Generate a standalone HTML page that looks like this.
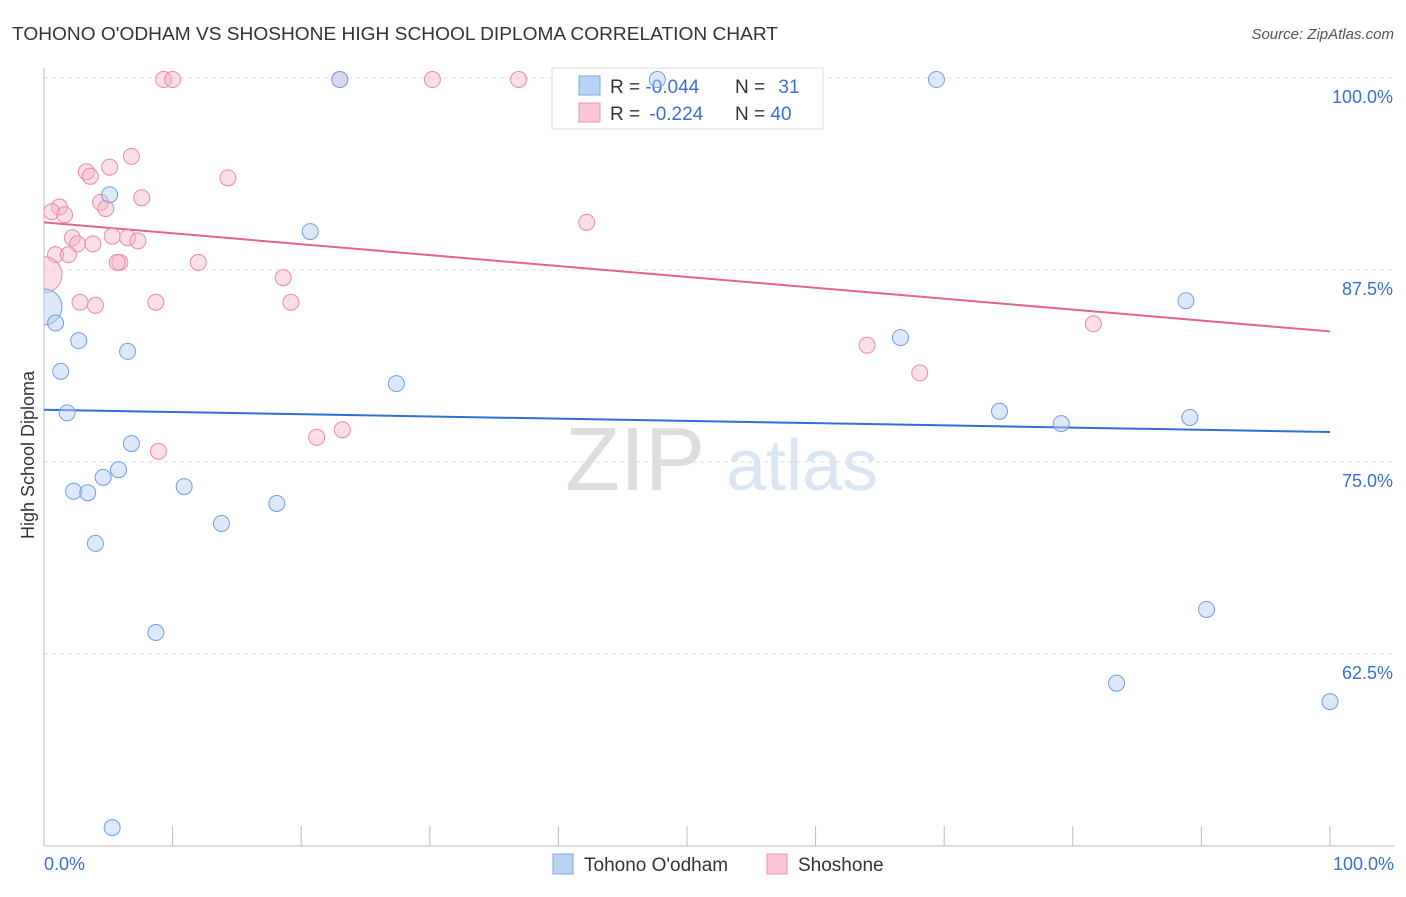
<!DOCTYPE html>
<html><head><meta charset="utf-8"><style>
body{margin:0;background:#fff;font-family:"Liberation Sans",sans-serif;}
svg text{font-family:"Liberation Sans",sans-serif;}
</style></head><body>
<svg id="chart" width="1406" height="892" xmlns="http://www.w3.org/2000/svg">
<defs><clipPath id="plotclip"><rect x="44" y="40" width="1362" height="806"/></clipPath></defs>
<text x="12" y="40" font-size="18" fill="#333" textLength="766" lengthAdjust="spacingAndGlyphs">TOHONO O'ODHAM VS SHOSHONE HIGH SCHOOL DIPLOMA CORRELATION CHART</text>
<text x="1394" y="39" font-size="15" fill="#555" text-anchor="end" font-style="italic">Source: ZipAtlas.com</text>
<g>
<text x="635" y="490" font-size="90" fill="#ddd" text-anchor="middle" font-family="Liberation Serif">ZIP</text>
<text x="802" y="490" font-size="72" fill="#dbe6f5" text-anchor="middle">atlas</text>
</g>
<g id="grid"></g>
<g id="axes"></g>
<g>
<rect x="552" y="68" width="271" height="61" fill="#fff" stroke="#ddd"/>
<rect x="579" y="76" width="21" height="19" fill="#b9d3f5" stroke="#7aa7e6"/>
<rect x="579" y="103" width="21" height="19" fill="#fbc7d6" stroke="#ee94b0"/>
<text x="610" y="93" font-size="19" fill="#333">R = <tspan fill="#3a6fd0">-0.044</tspan></text>
<text x="735" y="93" font-size="19" fill="#333">N = <tspan fill="#3a6fd0" dx="8">31</tspan></text>
<text x="610" y="120" font-size="19" fill="#333">R = <tspan fill="#3a6fd0" dx="4">-0.224</tspan></text>
<text x="735" y="120" font-size="19" fill="#333">N = <tspan fill="#3a6fd0">40</tspan></text>
</g>
<g id="trends"></g>
<g id="points" clip-path="url(#plotclip)"></g>
<text transform="translate(34,455) rotate(-90)" font-size="18" fill="#333" text-anchor="middle">High School Diploma</text>
<g>
<rect x="553" y="854" width="20" height="20" fill="#b9d3f5" stroke="#7aa7e6"/>
<text x="584" y="871" font-size="19" fill="#333">Tohono O'odham</text>
<rect x="767" y="854" width="20" height="20" fill="#fbc7d6" stroke="#ee94b0"/>
<text x="798" y="871" font-size="19" fill="#333">Shoshone</text>
</g>
</svg>
<script>
const yTicks=[62.5,75,87.5,100];
const yTickLabels=["62.5%","75.0%","87.5%","100.0%"];
const xTickLabels=["0.0%","100.0%"];
const blueX=[0,0.9,2.7,1.3,1.8,6.5,5.1,20.7,27.4,6.8,5.8,4.6,2.3,3.4,10.9,18.1,13.8,4.0,8.7,5.3,23.0,47.7,69.4,88.8,66.6,74.3,79.1,89.1,90.4,83.4,100];
const blueY=[85.1,84.05,82.9,80.9,78.2,82.2,92.4,90.0,80.1,76.2,74.5,74.0,73.1,73.0,73.4,72.3,71.0,69.7,63.9,51.2,99.9,99.9,99.9,85.5,83.1,78.3,77.5,77.9,65.4,60.6,59.4];
const blueBig=[1,0,0,0,0,0,0,0,0,0,0,0,0,0,0,0,0,0,0,0,0,0,0,0,0,0,0,0,0,0,0];
const pinkX=[9.3,10.0,23.0,30.2,36.9,6.8,3.3,3.6,5.1,14.3,7.6,1.2,0.6,1.6,4.4,4.8,42.2,2.2,5.3,6.5,7.3,2.6,3.8,0.9,1.9,5.9,5.7,12.0,18.6,0,2.8,4.0,8.7,19.2,81.6,64.0,68.1,21.2,23.2,8.9];
const pinkY=[99.9,99.9,99.9,99.9,99.9,94.9,93.9,93.6,94.2,93.5,92.2,91.6,91.3,91.1,91.9,91.5,90.6,89.6,89.7,89.6,89.4,89.2,89.2,88.5,88.5,88.0,88.0,88.0,87.0,87.2,85.4,85.2,85.4,85.4,84.0,82.6,80.8,76.6,77.1,75.7];
const blueTrend=[78.4,76.95];
const pinkTrend=[90.6,83.5];
const X0=44,X1=1330,Y100=78,PER=192/12.5;
const xs=v=>X0+(X1-X0)*v/100;
const ys=v=>Y100+(100-v)*PER;
const NS="http://www.w3.org/2000/svg";
function mk(tag,attrs,parent){const e=document.createElementNS(NS,tag);for(const k in attrs)e.setAttribute(k,attrs[k]);parent.appendChild(e);return e;}
const grid=document.getElementById('grid'),axes=document.getElementById('axes');
yTicks.forEach((t,i)=>{
 const g=mk('line',{x1:X0,x2:1394,y1:ys(t),y2:ys(t),stroke:'#ddd','stroke-dasharray':'4,4'},grid);
 
 
 const tx=mk('text',{x:1393,y:ys(t)+25,'font-size':18,fill:'#3a6fd0','text-anchor':'end'},axes);
 tx.textContent=yTickLabels[i];
 
 
});
const ya=mk('line',{x1:X0,x2:X0,y1:68,y2:846,stroke:'#bbb'},axes);


const xa=mk('line',{x1:X0,x2:1394,y1:846,y2:846,stroke:'#bbb'},axes);


for(let i=0;i<=10;i++){
 const t=mk('line',{x1:xs(i*10),x2:xs(i*10),y1:826,y2:846,stroke:'#bbb'},axes);
 
 
}
[[0,'start',44],[100,'end',1394]].forEach((d,i)=>{
 const tx=mk('text',{x:d[2],y:870,'font-size':18,fill:'#3a6fd0','text-anchor':d[1]},axes);
 tx.textContent=xTickLabels[i];
 
 
});
const pts=document.getElementById('points');
function drawSeries(X,Y,fill,stroke,name,big){
 X.forEach((x,i)=>{
  const r=big&&big[i]?18:8;
  const c=mk('circle',{cx:xs(x),cy:ys(Y[i]),r:r,fill:fill,'fill-opacity':0.45,stroke:stroke,'stroke-width':1},pts);
  
  
 });
}
drawSeries(pinkX,pinkY,'#f7b6c9','#e98aa8','shoshone-point',pinkX.map((x,i)=>i===29?1:0));
drawSeries(blueX,blueY,'#b3cff3','#6f9fe0','tohono-point',blueBig);
const tr=document.getElementById('trends');
const bl=mk('line',{x1:xs(0),x2:xs(100),y1:ys(blueTrend[0]),y2:ys(blueTrend[1]),stroke:'#2f6fd6','stroke-width':2},tr);


const pl=mk('line',{x1:xs(0),x2:xs(100),y1:ys(pinkTrend[0]),y2:ys(pinkTrend[1]),stroke:'#e4638f','stroke-width':2},tr);


</script>
</body></html>
